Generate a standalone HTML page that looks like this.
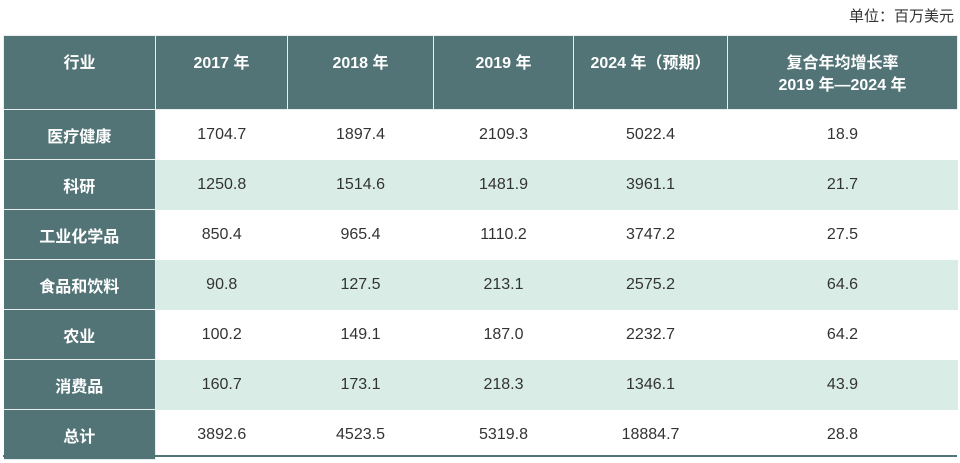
<!DOCTYPE html>
<html><head><meta charset="utf-8"><style>
body{margin:0;width:960px;height:463px;background:#fff;font-family:"Liberation Sans","Noto Sans CJK SC",sans-serif;position:relative;overflow:hidden}
.unit{position:absolute;right:6px;top:5px;font-size:15px;color:#333}
table{position:absolute;left:3px;top:35px;border-collapse:collapse;table-layout:fixed;width:954px}
th{background:#537476;color:#fff;font-weight:bold;font-size:16px;height:74px;border:1px solid #e8eeee;padding:17px 0 0 0;line-height:22px;vertical-align:top;box-sizing:border-box}
td{height:49px;font-size:16px;color:#333;text-align:center;padding:0;border:0}
td.ind{background:#537476;color:#fff;font-weight:bold;border-bottom:1px solid #e8eeee;border-right:1px solid #e8eeee}
tr.alt td:not(.ind){background:#d9ede6}
.bottom{position:absolute;left:3px;top:455px;width:954px;height:2px;background:#537476}
</style></head><body>
<div class="unit">单位：百万美元</div>
<table>
<colgroup><col style="width:152px"><col style="width:132px"><col style="width:146px"><col style="width:140px"><col style="width:154px"><col style="width:230px"></colgroup>
<tr><th>行业</th><th>2017 年</th><th>2018 年</th><th>2019 年</th><th>2024 年（预期）</th><th>复合年均增长率<br>2019 年—2024 年</th></tr>
<tr><td class="ind">医疗健康</td><td>1704.7</td><td>1897.4</td><td>2109.3</td><td>5022.4</td><td>18.9</td></tr>
<tr class="alt"><td class="ind">科研</td><td>1250.8</td><td>1514.6</td><td>1481.9</td><td>3961.1</td><td>21.7</td></tr>
<tr><td class="ind">工业化学品</td><td>850.4</td><td>965.4</td><td>1110.2</td><td>3747.2</td><td>27.5</td></tr>
<tr class="alt"><td class="ind">食品和饮料</td><td>90.8</td><td>127.5</td><td>213.1</td><td>2575.2</td><td>64.6</td></tr>
<tr><td class="ind">农业</td><td>100.2</td><td>149.1</td><td>187.0</td><td>2232.7</td><td>64.2</td></tr>
<tr class="alt"><td class="ind">消费品</td><td>160.7</td><td>173.1</td><td>218.3</td><td>1346.1</td><td>43.9</td></tr>
<tr><td class="ind">总计</td><td>3892.6</td><td>4523.5</td><td>5319.8</td><td>18884.7</td><td>28.8</td></tr>
</table>
<div class="bottom"></div>
</body></html>
